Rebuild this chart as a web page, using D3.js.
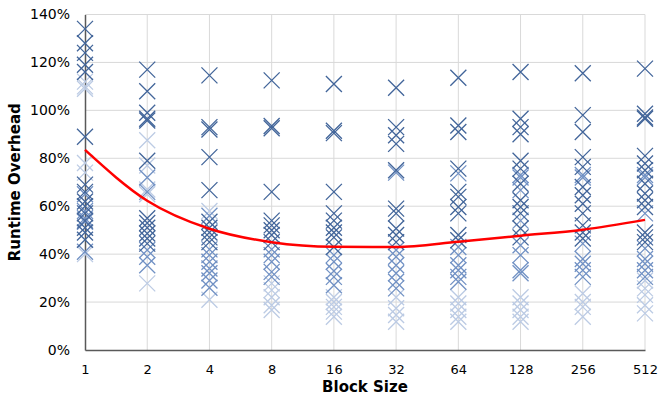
<!DOCTYPE html>
<html>
<head>
<meta charset="utf-8">
<script src="https://cdn.jsdelivr.net/npm/d3@7.9.0/dist/d3.min.js"></script>
<style>
  body { margin: 0; background: #fff; }
  svg { display: block; font-family: "DejaVu Sans", sans-serif; }
</style>
</head>
<body>
<svg id="chart" width="658" height="400"></svg>
<script>
// block sizes on the x axis
const blockSizes = ["1", "2", "4", "8", "16", "32", "64", "128", "256", "512"];
const yTicks = [0, 20, 40, 60, 80, 100, 120, 140];

// mean runtime overhead (%) - red line
const meanOverhead = [83.5, 62.3, 50.6, 45.0, 43.1, 43.0, 45.2, 47.7, 50.2, 54.3];

// individual runs (%), one list per block size, split by marker shade
const darkRuns = [
  [134, 128, 124, 119, 116, 89, 69, 66, 62, 60, 57, 54, 51, 49, 46],
  [117, 108, 99, 96.5, 95.8, 79, 55, 53, 51, 48.6, 46.5, 44.4],
  [114.6, 93, 92, 80.5, 66.7, 53.5, 51, 49, 47, 45],
  [112.5, 93.5, 92.5, 66, 54, 52, 50, 48, 45],
  [111, 91.5, 90.5, 66, 57, 54, 51, 49, 47, 43],
  [109.4, 93, 89.6, 86, 75, 59, 57, 50.7, 48, 45],
  [113.6, 93.7, 91, 75.7, 66, 63.9, 59.7, 57, 48, 45.8],
  [116, 96.5, 93, 90, 79, 75.7, 69.4, 62.5, 59.7, 57, 50.7, 47],
  [115.5, 98, 91, 80.5, 76.4, 68, 64.6, 61, 57, 52, 49, 46.5],
  [117.4, 98.6, 97, 96.5, 81, 77.8, 75, 69.4, 65.3, 62.5, 59.7, 49, 47, 45]
];
const midRuns = [
  [41, 55, 58, 65, 53.5],
  [41.7, 38.9, 35.4, 66, 72],
  [56, 42, 39.6, 36.8, 34, 32, 29, 26],
  [42, 39.6, 36.8, 32.6, 30.5],
  [39.6, 36.8, 33, 30.5, 27],
  [41.7, 38.9, 35.4, 32, 28.5, 25.7, 74],
  [73.7, 43, 39.6, 35.4, 33.3, 30.5, 28.5],
  [72, 66.7, 54, 43.7, 39.6, 33.3, 32, 73],
  [73, 72, 44.4, 38, 36, 33.3, 30.5],
  [73, 72, 57, 42.4, 38, 36, 33.3, 30.5]
];
const lightRuns = [
  [112, 110, 109, 78, 74, 40],
  [87.5, 77, 67, 65, 27.8],
  [58, 21],
  [27.8, 25, 22, 18.7, 16.7],
  [22, 20, 18, 16, 13.9],
  [22, 17.4, 14.6, 11.8],
  [22, 19.4, 16.7, 13.9, 11.8],
  [22, 19.4, 16.7, 13.9, 11.8],
  [23.6, 20, 18, 13.9],
  [29, 25.7, 23, 18.7, 15.3]
];

const margin = { top: 14.5, right: 13, bottom: 50, left: 85 };
const width = 658 - margin.left - margin.right;
const height = 400 - margin.top - margin.bottom;

const svg = d3.select("#chart");
const g = svg.append("g").attr("transform", `translate(${margin.left},${margin.top})`);

const x = d3.scalePoint().domain(blockSizes).range([0, width]).padding(0);
const y = d3.scaleLinear().domain([0, 140]).range([height, 0]);

// gridlines
g.append("g")
  .selectAll("line")
  .data(yTicks.filter(d => d > 0))
  .join("line")
  .attr("x1", 0).attr("x2", width)
  .attr("y1", d => y(d)).attr("y2", d => y(d))
  .attr("stroke", "#d9d9d9").attr("stroke-width", 1);

g.append("g")
  .selectAll("line")
  .data(blockSizes.slice(1))
  .join("line")
  .attr("x1", d => x(d)).attr("x2", d => x(d))
  .attr("y1", 0).attr("y2", height)
  .attr("stroke", "#d9d9d9").attr("stroke-width", 1);

// axes
const yAxis = g.append("g")
  .call(d3.axisLeft(y).tickValues(yTicks).tickSize(0).tickPadding(15).tickFormat(d => d + "%"));
yAxis.select(".domain").attr("stroke", "#595959").attr("stroke-width", 1.5);
yAxis.selectAll("text").attr("font-size", 14).attr("fill", "#000").attr("font-family", "DejaVu Sans");

const xAxis = g.append("g")
  .attr("transform", `translate(0,${height})`)
  .call(d3.axisBottom(x).tickSize(0).tickPadding(15));
xAxis.select(".domain").attr("stroke", "#595959").attr("stroke-width", 1.5);
xAxis.selectAll("text").attr("font-size", 13).attr("fill", "#000").attr("font-family", "DejaVu Sans");

// markers
const cross = s => `M${-s},${-s}L${s},${s}M${-s},${s}L${s},${-s}`;
const groups = [
  { runs: lightRuns, color: "#bccbe4" },
  { runs: midRuns, color: "#7191c4" },
  { runs: darkRuns, color: "#42659a" }
];
groups.forEach(grp => {
  const pts = [];
  grp.runs.forEach((vals, i) => vals.forEach(v => pts.push({ k: blockSizes[i], v })));
  g.append("g")
    .selectAll("path")
    .data(pts)
    .join("path")
    .attr("d", cross(8))
    .attr("transform", d => `translate(${x(d.k)},${y(d.v)})`)
    .attr("fill", "none")
    .attr("stroke", grp.color)
    .attr("stroke-width", 1.3);
});

// mean line
const line = d3.line()
  .x((d, i) => x(blockSizes[i]))
  .y(d => y(d))
  .curve(d3.curveMonotoneX);
g.append("path")
  .datum(meanOverhead)
  .attr("d", line)
  .attr("fill", "none")
  .attr("stroke", "#ff0000")
  .attr("stroke-width", 2.5);

// titles
svg.append("text")
  .attr("x", margin.left + width / 2)
  .attr("y", 392)
  .attr("text-anchor", "middle")
  .attr("font-size", 15).attr("font-weight", "bold")
  .text("Block Size");

svg.append("text")
  .attr("transform", `translate(20,${margin.top + height / 2}) rotate(-90)`)
  .attr("text-anchor", "middle")
  .attr("font-size", 15).attr("font-weight", "bold")
  .text("Runtime Overhead");
</script>
</body>
</html>
